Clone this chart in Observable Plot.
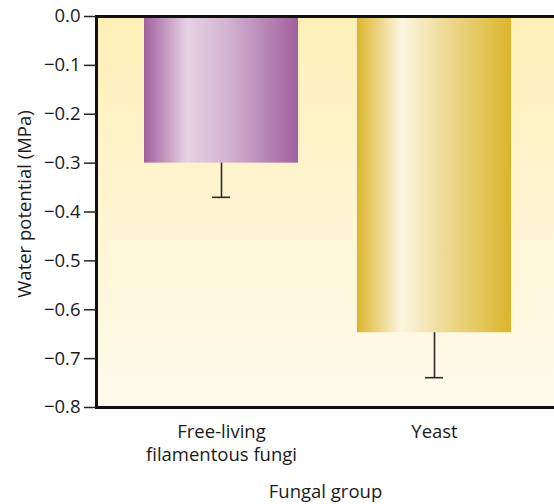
<!DOCTYPE html>
<html>
<head>
<meta charset="utf-8">
<script src="https://cdn.jsdelivr.net/npm/d3@7"></script>
<script src="https://cdn.jsdelivr.net/npm/@observablehq/plot@0.6"></script>
<style>
  html, body { margin: 0; padding: 0; background: #ffffff; }
  #chart svg { display: block; }
</style>
</head>
<body>
<div id="chart"></div>
<script>
// ---- data ----
const groups = ["Free-living filamentous fungi", "Yeast"];
const tickLabels = ["Free-living\nfilamentous fungi", "Yeast"];
const means = [-0.30, -0.647];
const errLows = [-0.37, -0.739];
const yTicks = [0, -0.1, -0.2, -0.3, -0.4, -0.5, -0.6, -0.7, -0.8];
const yLabel = "Water potential (MPa)";
const xLabel = "Fungal group";
const gradIds = ["gradPurple", "gradYellow"];

const data = groups.map((g, i) => ({group: g, mean: means[i], low: errLows[i]}));
const fmt = d3.format(".1f");
const FS = 18.5;

const plot = Plot.plot({
  width: 554,
  height: 504,
  marginLeft: 96,
  marginRight: 0,
  marginTop: 16,
  marginBottom: 97,
  style: {fontFamily: "'Open Sans', sans-serif", fontSize: FS + "px", background: "#ffffff", color: "#1a1a1a"},
  x: {domain: groups, paddingInner: 0.276, paddingOuter: 0.21, align: 0.533},
  y: {domain: [-0.8, 0]},
  color: {domain: groups, range: gradIds.map(id => `url(#${id})`)},
  marks: [
    Plot.frame({fill: "url(#gradBg)", stroke: null}),
    Plot.barY(data, {x: "group", y: "mean", fill: "group"}),
    Plot.ruleX(data, {x: "group", y1: "mean", y2: "low", stroke: "#2a2a2a", strokeWidth: 1.6}),
    Plot.tickY(data, {x: "group", y: "low", stroke: "#2a2a2a", strokeWidth: 1.6, insetLeft: 68, insetRight: 68}),
    Plot.ruleY([0, -0.8], {stroke: "#111", strokeWidth: 3}),
    Plot.frame({anchor: "left", stroke: "#111", strokeWidth: 3}),
    Plot.axisY({
      ticks: yTicks, tickFormat: fmt, tickSize: 12, tickPadding: 4, fontSize: FS,
      stroke: "#222", strokeWidth: 1.5, label: null
    }),
    Plot.text([yLabel], {frameAnchor: "left", textAnchor: "middle", lineAnchor: "middle", rotate: -90, dx: -71, dy: -8, fontSize: FS, fill: "#1a1a1a"}),
    Plot.axisX({
      tickSize: 0, tickPadding: 14, lineHeight: 1.25, fontSize: FS,
      tickFormat: d => tickLabels[groups.indexOf(d)],
      label: xLabel, labelAnchor: "center", labelArrow: "none", labelOffset: 90
    })
  ]
});

// gradients (styles only)
const ns = "http://www.w3.org/2000/svg";
const defs = document.createElementNS(ns, "defs");
function addGrad(id, stops, vertical) {
  const g = document.createElementNS(ns, "linearGradient");
  g.setAttribute("id", id);
  g.setAttribute("x1", "0"); g.setAttribute("y1", "0");
  g.setAttribute("x2", vertical ? "0" : "1"); g.setAttribute("y2", vertical ? "1" : "0");
  for (const [o, c] of stops) {
    const s = document.createElementNS(ns, "stop");
    s.setAttribute("offset", o);
    s.setAttribute("stop-color", c);
    g.appendChild(s);
  }
  defs.appendChild(g);
}
addGrad("gradPurple", [["0", "#a0609c"], ["0.28", "#e6d2e4"], ["0.55", "#d2b2d0"], ["1", "#a1609e"]]);
addGrad("gradYellow", [["0", "#dcb52c"], ["0.29", "#fcf6e2"], ["0.55", "#efdc9a"], ["1", "#dbb52a"]]);
addGrad("gradBg", [["0", "#fdefb6"], ["1", "#fffbee"]], true);
plot.insertBefore(defs, plot.firstChild);

document.getElementById("chart").appendChild(plot);
</script>
</body>
</html>
